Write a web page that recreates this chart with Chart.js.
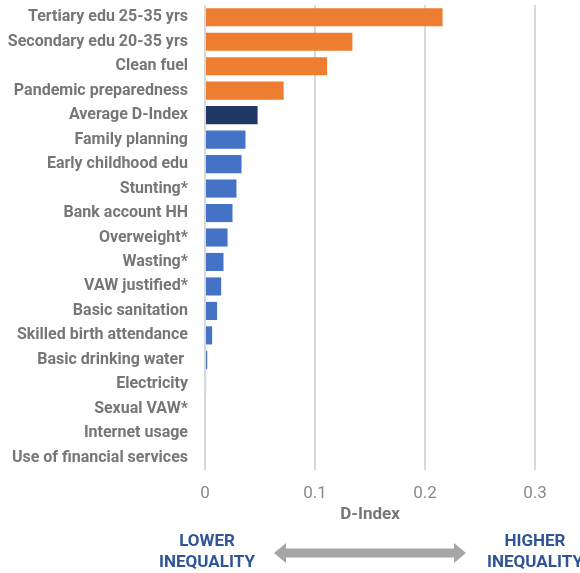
<!DOCTYPE html>
<html>
<head>
<meta charset="utf-8">
<script src="https://cdn.jsdelivr.net/npm/chart.js@4/dist/chart.umd.min.js"></script>
<style>
  html, body { margin: 0; padding: 0; background: #ffffff; }
  #wrap { position: relative; width: 580px; height: 573px; }
</style>
</head>
<body>
<div id="wrap"><canvas id="c" width="580" height="573"></canvas></div>
<script>
const categories = [
  "Tertiary edu 25-35 yrs",
  "Secondary edu 20-35 yrs",
  "Clean fuel",
  "Pandemic preparedness",
  "Average D-Index",
  "Family planning",
  "Early childhood edu",
  "Stunting*",
  "Bank account HH",
  "Overweight*",
  "Wasting*",
  "VAW justified*",
  "Basic sanitation",
  "Skilled birth attendance",
  "Basic drinking water ",
  "Electricity",
  "Sexual VAW*",
  "Internet usage",
  "Use of financial services"
];
const dIndexValues = [
  0.216, 0.134, 0.111, 0.0715, 0.0478, 0.0368, 0.0332, 0.0286, 0.025, 0.0205,
  0.0168, 0.0147, 0.011, 0.0065, 0.002, 0.001, 0, 0, 0
];
// group of each bar: "top" (highest inequality), "avg" (average), "other"
const barGroups = [
  "top", "top", "top", "top", "avg", "other", "other", "other", "other", "other",
  "other", "other", "other", "other", "other", "other", "other", "other", "other"
];
const xTickValues = [0, 0.1, 0.2, 0.3];
const axisTitle = "D-Index";
const lowerText = ["LOWER", "INEQUALITY"];
const higherText = ["HIGHER", "INEQUALITY"];

const groupColors = { top: "#ED7D31", avg: "#203864", other: "#4472C4" };
const labelColor = "#767676";
const noteColor = "#2F5597";

const bottomNote = {
  id: "bottomNote",
  afterDraw(chart) {
    const ctx = chart.ctx;
    const xs = chart.scales.x;
    const xL = xs.getPixelForValue(xTickValues[0]);
    const xR = xs.getPixelForValue(xTickValues[xTickValues.length - 1]);
    ctx.save();
    ctx.fillStyle = noteColor;
    ctx.font = "bold 17px Roboto";
    ctx.textAlign = "center";
    ctx.textBaseline = "middle";
    ctx.fillText(lowerText[0], xL + 2, 542);
    ctx.fillText(lowerText[1], xL + 2, 563);
    ctx.fillText(higherText[0], xR, 542);
    ctx.fillText(higherText[1], xR, 563);
    // double arrow
    const a0 = 274, a1 = 466, ay = 553, sh = 4.5, hh = 10, hl = 12;
    ctx.fillStyle = "#A6A6A6";
    ctx.beginPath();
    ctx.moveTo(a0, ay);
    ctx.lineTo(a0 + hl, ay - hh);
    ctx.lineTo(a0 + hl, ay - sh);
    ctx.lineTo(a1 - hl, ay - sh);
    ctx.lineTo(a1 - hl, ay - hh);
    ctx.lineTo(a1, ay);
    ctx.lineTo(a1 - hl, ay + hh);
    ctx.lineTo(a1 - hl, ay + sh);
    ctx.lineTo(a0 + hl, ay + sh);
    ctx.lineTo(a0 + hl, ay + hh);
    ctx.closePath();
    ctx.fill();
    ctx.restore();
  }
};

new Chart(document.getElementById("c"), {
  type: "bar",
  data: {
    labels: categories,
    datasets: [{
      data: dIndexValues,
      backgroundColor: (c) => groupColors[barGroups[c.dataIndex]],
      barPercentage: 0.74,
      categoryPercentage: 1.0,
      borderWidth: 0
    }]
  },
  options: {
    indexAxis: "y",
    responsive: false,
    animation: false,
    devicePixelRatio: 1,
    layout: { padding: { left: 0, right: 45, top: 5, bottom: 48 } },
    plugins: { legend: { display: false }, tooltip: { enabled: false } },
    scales: {
      x: {
        min: 0,
        max: 0.3,
        afterBuildTicks: (s) => { s.ticks = xTickValues.map(v => ({ value: v })); },
        afterFit: (s) => { s.height = 55; s.paddingLeft = 0; s.paddingRight = 0; },
        grid: { color: "#D9D9D9", lineWidth: 2, drawTicks: false },
        border: { display: false },
        ticks: {
          color: "#8a8a8a",
          font: { family: "Roboto", size: 17 },
          padding: 14,
          callback: (v) => String(v)
        },
        title: {
          display: true,
          text: axisTitle,
          color: labelColor,
          font: { family: "Roboto", size: 17, weight: "bold" },
          padding: { top: 0, bottom: 0 }
        }
      },
      y: {
        afterFit: (s) => { s.width = 205; s.paddingTop = 0; s.paddingBottom = 0; },
        grid: { display: false, drawTicks: false },
        border: { display: false },
        ticks: {
          color: labelColor,
          font: { family: "Roboto", size: 16, weight: "bold" },
          padding: 17,
          autoSkip: false
        }
      }
    }
  },
  plugins: [bottomNote]
});
</script>
</body>
</html>
